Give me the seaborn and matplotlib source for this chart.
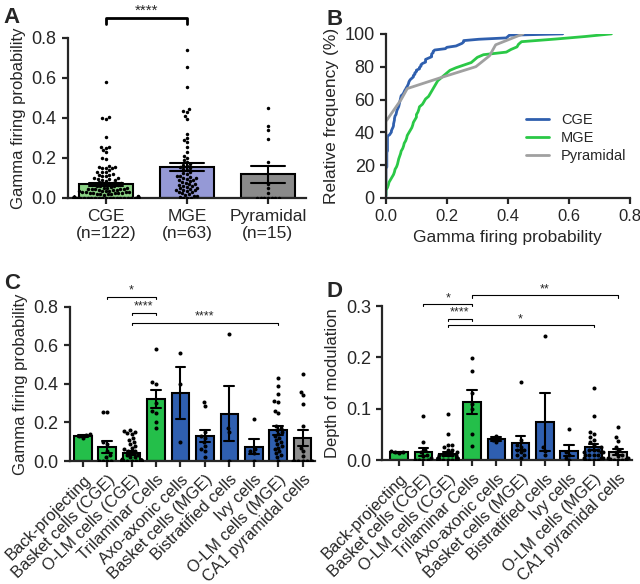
import numpy as np
import pandas as pd
import matplotlib
matplotlib.use('Agg')
import matplotlib.pyplot as plt
import seaborn as sns

sns.set_style('ticks')
plt.rcParams['font.family'] = ['Liberation Sans', 'DejaVu Sans']

# ---------------- data ----------------
# Panel A / B: gamma firing probability per group
cge = [0.0, 0.0, 0.0, 0.0, 0.0, 0.0, 0.0, 0.0, 0.0, 0.0, 0.0, 0.0, 0.0, 0.0, 0.0, 0.0,
       0.0, 0.0, 0.0, 0.0, 0.0, 0.0,
       0.003, 0.003, 0.003, 0.003, 0.003, 0.003, 0.003, 0.003, 0.003, 0.003, 0.003, 0.003,
       0.005, 0.005, 0.005, 0.005, 0.005, 0.005, 0.005, 0.005, 0.005, 0.005, 0.005, 0.005,
       0.012, 0.015, 0.018, 0.018, 0.02,
       0.022, 0.024, 0.025, 0.025, 0.026, 0.027, 0.028, 0.028, 0.029, 0.03,
       0.033, 0.034, 0.035, 0.036, 0.038, 0.04,
       0.042, 0.043, 0.044, 0.045, 0.046, 0.047, 0.048, 0.049, 0.05,
       0.055, 0.058, 0.06, 0.062, 0.065, 0.067, 0.07,
       0.072, 0.074, 0.075, 0.077, 0.08,
       0.085, 0.09, 0.09, 0.095, 0.095, 0.1, 0.1,
       0.11, 0.11, 0.115, 0.115, 0.12,
       0.13, 0.13, 0.13, 0.14, 0.15, 0.15, 0.15,
       0.155, 0.155, 0.16, 0.195, 0.2,
       0.23, 0.24, 0.25, 0.255, 0.255, 0.305, 0.395, 0.40, 0.405, 0.58]
mge = [0.0, 0.0, 0.0, 0.005, 0.008, 0.01, 0.015, 0.02, 0.025, 0.028, 0.03,
       0.035, 0.038, 0.04, 0.042, 0.045, 0.048, 0.05, 0.055, 0.058, 0.06,
       0.065, 0.068, 0.07, 0.075, 0.08, 0.085, 0.088, 0.09, 0.095, 0.1, 0.1,
       0.105, 0.108, 0.11, 0.12, 0.125, 0.13, 0.14, 0.145, 0.15,
       0.155, 0.16, 0.165, 0.17, 0.18, 0.19, 0.2, 0.21, 0.23,
       0.255, 0.28, 0.29, 0.3, 0.32, 0.395, 0.41, 0.43, 0.435, 0.445,
       0.555, 0.655, 0.74]
pyr = [0.0, 0.0, 0.0, 0.0, 0.0, 0.0, 0.0, 0.025, 0.05, 0.07, 0.18, 0.295, 0.34, 0.36, 0.45]

groups_a = ['CGE', 'MGE', 'Pyramidal']
labels_a = ['CGE\n(n=122)', 'MGE\n(n=63)', 'Pyramidal\n(n=15)']
colors_a = ['#8cd386', '#9599d6', '#8a8a8a']
line_colors_b = ['#2f5fae', '#2ac846', '#a0a0a0']

# Panels C / D: per cell type
cell_types = ['Back-projecting', 'Basket cells (CGE)', 'O-LM cells (CGE)', 'Trilaminar Cells',
              'Axo-axonic cells', 'Basket cells (MGE)', 'Bistratified cells', 'Ivy cells',
              'O-LM cells (MGE)', 'CA1 pyramidal cells']
cell_colors = ['#24bf4a', '#24bf4a', '#24bf4a', '#24bf4a', '#2f5fb0', '#2f5fb0',
               '#2f5fb0', '#2f5fb0', '#2f5fb0', '#8e8e8e']
cell_colors_d = cell_colors[:-1] + ['#b4b4b4']

gamma_c = [
    [0.12, 0.13, 0.135, 0.14],
    [0.255, 0.255, 0.1, 0.09, 0.05, 0.03, 0.02, 0.0, 0.0, 0.0, 0.0],
    [0.16, 0.155, 0.15, 0.145, 0.14, 0.12, 0.11, 0.1, 0.09, 0.08, 0.07, 0.06, 0.05, 0.05,
     0.04, 0.03, 0.03, 0.02, 0.02, 0.01, 0.005, 0.005, 0.005, 0.005, 0.005, 0.005, 0.005,
     0.005, 0.0, 0.0, 0.0, 0.0, 0.0, 0.0, 0.0, 0.0, 0.0, 0.0, 0.0, 0.0],
    [0.58, 0.41, 0.40, 0.30, 0.26, 0.25, 0.20, 0.17],
    [0.56, 0.40, 0.10],
    [0.305, 0.285, 0.15, 0.13, 0.12, 0.1, 0.08, 0.06, 0.05, 0.02],
    [0.66, 0.17, 0.15, 0.0],
    [0.22, 0.06, 0.05, 0.04, 0.0],
    [0.43, 0.39, 0.35, 0.31, 0.305, 0.26, 0.25, 0.18, 0.17, 0.16, 0.15, 0.14, 0.13, 0.12,
     0.11, 0.1, 0.09, 0.08, 0.07, 0.06, 0.05, 0.04, 0.03, 0.02, 0.0],
    pyr,
]
depth_d = [
    [0.014, 0.015, 0.016, 0.017],
    [0.086, 0.035, 0.02, 0.015, 0.01, 0.008, 0.005, 0.0, 0.0, 0.0, 0.0],
    [0.09, 0.05, 0.03, 0.03, 0.025, 0.02, 0.02, 0.015, 0.01, 0.01, 0.01, 0.01, 0.01,
     0.005, 0.005, 0.005, 0.005, 0.005, 0.005, 0.005, 0.005, 0.0, 0.0, 0.0, 0.0, 0.0,
     0.0, 0.0, 0.0, 0.0, 0.0],
    [0.198, 0.174, 0.13, 0.11, 0.1, 0.05, 0.027],
    [0.047, 0.04, 0.036],
    [0.153, 0.04, 0.03, 0.025, 0.02, 0.02, 0.015, 0.01, 0.01, 0.005],
    [0.242, 0.025, 0.018, 0.01],
    [0.061, 0.015, 0.01, 0.005, 0.0],
    [0.14, 0.086, 0.055, 0.05, 0.045, 0.04, 0.035, 0.03, 0.025, 0.02, 0.02, 0.02, 0.015,
     0.015, 0.015, 0.01, 0.01, 0.01, 0.01, 0.005, 0.005, 0.005, 0.0, 0.0, 0.0, 0.0],
    [0.065, 0.045, 0.038, 0.025, 0.02, 0.015, 0.01, 0.008, 0.005, 0.004, 0.003, 0.002,
     0.0, 0.0, 0.0],
]

# significance brackets: (from, to, height, label)
sig_a = [(0, 1, 0.9, '****')]
sig_c = [(1, 3, 0.852, '*'), (2, 3, 0.769, '****'), (2, 8, 0.717, '****')]
sig_d = [(3, 9, 0.321, '**'), (1, 3, 0.304, '*'), (2, 3, 0.275, '****'), (2, 8, 0.263, '*')]


def long_df(names, lists):
    return pd.DataFrame({'group': np.repeat(names, [len(v) for v in lists]),
                         'value': np.concatenate(lists)})


def style_axes(ax):
    sns.despine(ax=ax)
    for s in ['left', 'bottom']:
        ax.spines[s].set_linewidth(1.6)
    ax.tick_params(width=1.6, length=4.5, direction='out')
    ax.tick_params(axis='y', labelsize=13)


def brackets(ax, items, drop, lw, fs):
    for i, j, y, lab in items:
        ax.plot([i, i, j, j], [y - drop, y, y, y - drop], color='black', lw=lw, clip_on=False)
        ax.text((i + j) / 2, y, lab, ha='center', va='bottom', fontsize=fs, clip_on=False)


def bar_panel(ax, df, order, palette, width, capsize, size):
    sns.barplot(data=df, x='group', y='value', hue='group', order=order, hue_order=order,
                palette=palette, saturation=1, errorbar='se', capsize=capsize, width=width,
                edgecolor='black', linewidth=1.5, legend=False,
                err_kws={'color': 'black', 'linewidth': 1.5}, ax=ax)
    sns.swarmplot(data=df, x='group', y='value', order=order, color='black', size=size,
                  warn_thresh=1, ax=ax)


fig = plt.figure(figsize=(6.4, 5.84), dpi=100)

# ---------------- A ----------------
axA = fig.add_axes([0.106, 0.661, 0.372, 0.274])
dfA = long_df(groups_a, [cge, mge, pyr])
bar_panel(axA, dfA, groups_a, colors_a, 0.66, 0.42, 2.5)
axA.set_xlim(-0.47, 2.47)
axA.set_ylim(0, 0.8)
axA.set_yticks([0.0, 0.2, 0.4, 0.6, 0.8])
axA.set_xticks(range(3))
axA.set_xticklabels(labels_a, fontsize=12.5)
axA.set_xlabel('')
axA.set_ylabel('Gamma firing probability', fontsize=12)
style_axes(axA)
brackets(axA, sig_a, 0.03, 2.0, 11)

# ---------------- B ----------------
axB = fig.add_axes([0.603, 0.661, 0.381, 0.281])
for name, vals, col in zip(groups_a, [cge, mge, pyr], line_colors_b):
    v = np.sort(np.array(vals))
    pct = np.arange(1, len(v) + 1) / len(v) * 100
    sns.lineplot(x=v, y=pct, estimator=None, sort=False, color=col, lw=2, label=name, ax=axB)
axB.set_xlim(0, 0.8)
axB.set_ylim(0, 100)
axB.set_xticks([0.0, 0.2, 0.4, 0.6, 0.8])
axB.set_yticks([0, 20, 40, 60, 80, 100])
axB.set_xlabel('Gamma firing probability', fontsize=12.5)
axB.set_ylabel('Relative frequency (%)', fontsize=12.5)
style_axes(axB)
axB.tick_params(axis='x', labelsize=12)
axB.legend(frameon=False, loc='upper left', bbox_to_anchor=(0.52, 0.6), fontsize=10.5,
           handlelength=1.6, labelspacing=0.3)

# ---------------- C ----------------
axC = fig.add_axes([0.109, 0.2106, 0.383, 0.264])
dfC = long_df(cell_types, gamma_c)
bar_panel(axC, dfC, cell_types, cell_colors, 0.72, 0.4, 2.9)
axC.set_xlim(-0.53, 9.5)
axC.set_ylim(0, 0.8)
axC.set_yticks([0.0, 0.2, 0.4, 0.6, 0.8])
axC.set_xticks(range(10))
axC.set_xticklabels(cell_types, rotation=45, ha='right', rotation_mode='anchor', fontsize=11.8)
axC.set_xlabel('')
axC.set_ylabel('Gamma firing probability', fontsize=12)
style_axes(axC)
brackets(axC, sig_c, 0.012, 0.8, 9)

# ---------------- D ----------------
axD = fig.add_axes([0.597, 0.212, 0.39, 0.264])
dfD = long_df(cell_types, depth_d)
bar_panel(axD, dfD, cell_types, cell_colors_d, 0.72, 0.4, 2.9)
axD.set_xlim(-0.7, 9.57)
axD.set_ylim(0, 0.3)
axD.set_yticks([0.0, 0.1, 0.2, 0.3])
axD.set_xticks(range(10))
axD.set_xticklabels(cell_types, rotation=45, ha='right', rotation_mode='anchor', fontsize=11.8)
axD.set_xlabel('')
axD.set_ylabel('Depth of modulation', fontsize=12)
style_axes(axD)
brackets(axD, sig_d, 0.0045, 0.8, 9)

for lab, x, y in [('A', 0.006, 0.988), ('B', 0.51, 0.985), ('C', 0.006, 0.533), ('D', 0.51, 0.518)]:
    fig.text(x, y, lab, fontsize=16, fontweight='bold', va='top')

fig.savefig('out.png', dpi=100)
